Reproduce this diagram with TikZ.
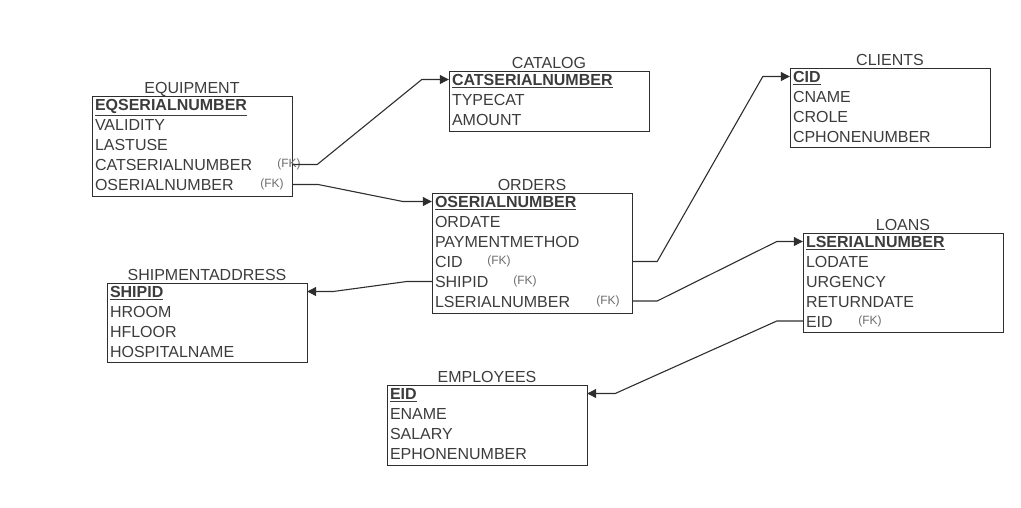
\documentclass[tikz,border=0pt]{standalone}
\usepackage{fontspec}
\setmainfont{Liberation Sans}
\usetikzlibrary{arrows.meta,calc}
\definecolor{txt}{HTML}{3C3C3C}
\definecolor{linec}{HTML}{2E2E2E}
\begin{document}
\begin{tikzpicture}[x=1pt,y=-1pt,
  frame/.style={draw=linec, line width=1.1pt, minimum width=200pt, inner sep=0pt, anchor=north west},
  row/.style={anchor=center, text width=194pt, inner xsep=3pt, inner ysep=0pt, text height=14pt, text depth=2pt, align=left, text=txt, font=\fontsize{16}{18}\selectfont},
  title/.style={text=txt, inner sep=0pt, text height=14pt, text depth=2pt, font=\fontsize{16}{18}\selectfont},
  fk/.style={text=txt!75, inner sep=0pt, text height=9pt, text depth=3pt, font=\fontsize{12}{13}\selectfont},
  conn/.style={draw=linec, line width=1.1pt},
  arr/.style={conn, -{Triangle[length=9pt,width=9pt]}}
]
\path[use as bounding box] (0,0) rectangle (1021,507);

% EQUIPMENT
\node[frame, minimum height=100pt] (equipment) at (92,96) {};
\node[title] (equipment-t) at (192,87) {EQUIPMENT};
\node[row] (eq-pk) at (192,104.5) {\textbf{\underline{EQSERIALNUMBER}}};
\node[row] (eq-val) at (192,124.5) {VALIDITY};
\node[row] (eq-last) at (192,144.5) {LASTUSE};
\node[row] (eq-cat) at (192,164.5) {CATSERIALNUMBER};
\node[row] (eq-os) at (192,184.5) {OSERIALNUMBER};
\node[fk] (eq-cat-fk) at (289,164.5) {(FK)};
\node[fk] (eq-os-fk) at (272,184.5) {(FK)};

% CATALOG
\node[frame, minimum height=60pt] (catalog) at (449,71) {};
\node[title] (catalog-t) at (549,62) {CATALOG};
\node[row] (cat-pk) at (549,79.5) {\textbf{\underline{CATSERIALNUMBER}}};
\node[row] (cat-type) at (549,99.5) {TYPECAT};
\node[row] (cat-amt) at (549,119.5) {AMOUNT};

% CLIENTS
\node[frame, minimum height=79pt] (clients) at (790,68) {};
\node[title] (clients-t) at (890,59) {CLIENTS};
\node[row] (cli-pk) at (890,76.5) {\textbf{\underline{CID}}};
\node[row] (cli-name) at (890,96.5) {CNAME};
\node[row] (cli-role) at (890,116.5) {CROLE};
\node[row] (cli-ph) at (890,136) {CPHONENUMBER};

% ORDERS
\node[frame, minimum height=120pt] (orders) at (432,193) {};
\node[title] (orders-t) at (532,184) {ORDERS};
\node[row] (ord-pk) at (532,201.5) {\textbf{\underline{OSERIALNUMBER}}};
\node[row] (ord-date) at (532,221.5) {ORDATE};
\node[row] (ord-pay) at (532,241.5) {PAYMENTMETHOD};
\node[row] (ord-cid) at (532,261.5) {CID};
\node[row] (ord-ship) at (532,281.5) {SHIPID};
\node[row] (ord-lser) at (532,301) {LSERIALNUMBER};
\node[fk] (ord-cid-fk) at (499,261.5) {(FK)};
\node[fk] (ord-ship-fk) at (525,281.5) {(FK)};
\node[fk] (ord-lser-fk) at (608,301) {(FK)};

% LOANS
\node[frame, minimum height=99pt] (loans) at (803,233) {};
\node[title] (loans-t) at (903,224) {LOANS};
\node[row] (loa-pk) at (903,241.5) {\textbf{\underline{LSERIALNUMBER}}};
\node[row] (loa-date) at (903,261) {LODATE};
\node[row] (loa-urg) at (903,281) {URGENCY};
\node[row] (loa-ret) at (903,301) {RETURNDATE};
\node[row] (loa-eid) at (903,321) {EID};
\node[fk] (loa-eid-fk) at (870,321) {(FK)};

% SHIPMENTADDRESS
\node[frame, minimum height=79pt] (shipment) at (107,283) {};
\node[title] (shipment-t) at (207,274) {SHIPMENTADDRESS};
\node[row] (shp-pk) at (207,291.5) {\textbf{\underline{SHIPID}}};
\node[row] (shp-room) at (207,311.5) {HROOM};
\node[row] (shp-floor) at (207,331.5) {HFLOOR};
\node[row] (shp-hosp) at (207,351) {HOSPITALNAME};

% EMPLOYEES
\node[frame, minimum height=80pt] (employees) at (387,385) {};
\node[title] (employees-t) at (487,376) {EMPLOYEES};
\node[row] (emp-pk) at (487,393.5) {\textbf{\underline{EID}}};
\node[row] (emp-name) at (487,413.5) {ENAME};
\node[row] (emp-sal) at (487,433.5) {SALARY};
\node[row] (emp-ph) at (487,453) {EPHONENUMBER};

% connectors
\draw[arr] (eq-cat.east) -- ++(25,0) -- ($(cat-pk.west)+(-27,0)$) -- (cat-pk.west);
\draw[arr] (eq-os.east) -- ++(26,0) -- ($(ord-pk.west)+(-29,0)$) -- (ord-pk.west);
\draw[arr] (ord-cid.east) -- ++(25,0) -- ($(cli-pk.west)+(-27,0)$) -- (cli-pk.west);
\draw[arr] (ord-lser.east) -- ++(25,0) -- ($(loa-pk.west)+(-26,0)$) -- (loa-pk.west);
\draw[arr] (loa-eid.west) -- ++(-26,0) -- ($(emp-pk.east)+(28,0)$) -- (emp-pk.east);
\draw[arr] (ord-ship.west) -- ++(-25,0) -- ($(shp-pk.east)+(26,0)$) -- (shp-pk.east);
\end{tikzpicture}
\end{document}
